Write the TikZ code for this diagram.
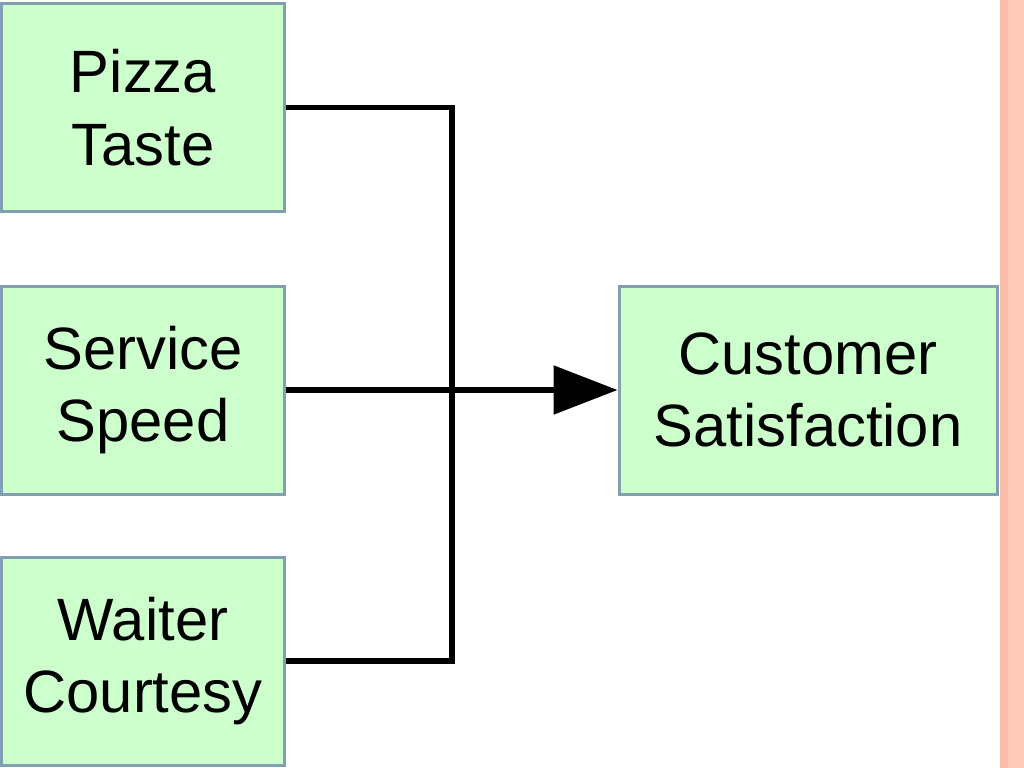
\documentclass[tikz,border=0pt]{standalone}
\usepackage{fontspec}
\setmainfont{Liberation Sans}
\usepackage{tikz}
\usetikzlibrary{arrows.meta, positioning}

\definecolor{boxfill}{RGB}{204,255,204}
\definecolor{boxline}{RGB}{128,160,178}
\definecolor{strip}{RGB}{255,204,186}
\definecolor{stripedge}{RGB}{248,190,170}

\begin{document}
\begin{tikzpicture}[
    font=\fontsize{17}{20.7}\selectfont,
    factor/.style={
        rectangle, draw=boxline, fill=boxfill, line width=0.03cm,
        minimum width=2.82cm, minimum height=2.08cm,
        inner sep=0pt, align=center
    },
    result/.style={
        factor, minimum width=3.78cm
    },
    conn/.style={line width=0.055cm, black, line join=miter},
    arr/.style={conn, -{Triangle[length=0.64cm, width=0.48cm]}}
]

\useasboundingbox (0,0) rectangle (10.24,-7.68);

% strip on the right edge
\fill[strip] (10.0,0) rectangle (10.24,-7.68);
\fill[stripedge] (10.0,0) rectangle (10.08,-7.68);

\node (pizza)   [factor] at (1.43,-1.075) {Pizza\\Taste};
\node (service) [factor] at (1.43,-3.90)  {Service\\Speed};
\node (waiter)  [factor] at (1.43,-6.61)  {Waiter\\Courtesy};

\node (satisf)  [result] at (8.08,-3.90) {Customer\\Satisfaction};

\def\busX{4.52}
\coordinate (bus) at (\busX,-3.90);

\draw[conn] (pizza.east) -| (bus);
\draw[conn] (waiter.east) -| (bus);
\draw[arr] (service.east) -- (satisf.west);

\end{tikzpicture}
\end{document}
